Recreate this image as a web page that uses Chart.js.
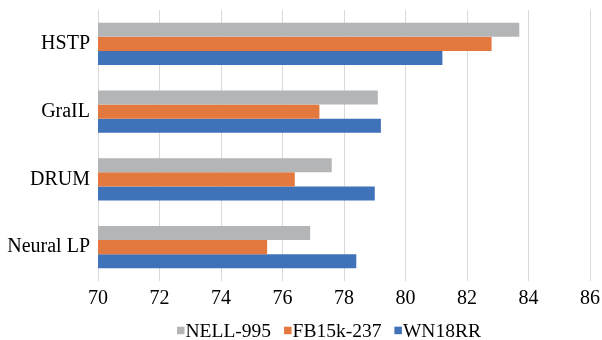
<!DOCTYPE html>
<html>
<head>
<meta charset="utf-8">
<script src="https://cdn.jsdelivr.net/npm/chart.js@4.4.1/dist/chart.umd.min.js"></script>
<style>
  html, body { margin: 0; padding: 0; background: #fff; }
  #wrap { width: 602px; height: 340px; position: relative; }
</style>
</head>
<body>
<div id="wrap"><canvas id="c" width="602" height="340"></canvas></div>
<script>
// Methods compared, top to bottom
const categories = ['HSTP', 'GraIL', 'DRUM', 'Neural LP'];

// Scores per dataset
const nell995  = [83.7, 79.1, 77.6, 76.9];
const fb15k237 = [82.8, 77.2, 76.4, 75.5];
const wn18rr   = [81.2, 79.2, 79.0, 78.4];

const seriesNames  = ['NELL-995', 'FB15k-237', 'WN18RR'];
const seriesColors = ['#B4B5B7', '#E4793F', '#3F72B8'];

// Axis range and tick step
const xMin = 70, xMax = 86, xStep = 2;

const FONT = '"Liberation Serif", "Times New Roman", serif';

// Legend drawn as a single row of small squares followed by names
const bottomLegend = {
  id: 'bottomLegend',
  afterDraw(chart) {
    const ctx = chart.ctx;
    ctx.save();
    ctx.font = '19.5px ' + FONT;
    ctx.textBaseline = 'alphabetic';
    ctx.textAlign = 'left';
    let x = 177;
    const baseline = 336.5;
    chart.data.datasets.forEach((ds, i) => {
      ctx.fillStyle = ds.backgroundColor;
      ctx.fillRect(x, 326.7, 7.5, 7.5);
      x += 8.5;
      ctx.fillStyle = '#000';
      ctx.fillText(ds.label, x, baseline);
      x += ctx.measureText(ds.label).width + 13;
    });
    ctx.restore();
  }
};

new Chart(document.getElementById('c'), {
  type: 'bar',
  data: {
    labels: categories,
    datasets: [
      { label: seriesNames[0], data: nell995,  backgroundColor: seriesColors[0] },
      { label: seriesNames[1], data: fb15k237, backgroundColor: seriesColors[1] },
      { label: seriesNames[2], data: wn18rr,   backgroundColor: seriesColors[2] }
    ]
  },
  options: {
    indexAxis: 'y',
    responsive: false,
    animation: false,
    devicePixelRatio: 1,
    layout: { padding: { top: 10, right: 12, bottom: 0, left: 0 } },
    datasets: {
      bar: { categoryPercentage: 0.62, barPercentage: 1.0, borderWidth: 0 }
    },
    plugins: {
      legend: { display: false },
      tooltip: { enabled: false }
    },
    scales: {
      x: {
        min: xMin,
        max: xMax,
        ticks: {
          stepSize: xStep,
          color: '#000',
          padding: 6,
          font: { family: FONT, size: 20 }
        },
        grid: { color: '#D9D9D9', lineWidth: 1, drawTicks: false },
        border: { display: false },
        afterFit(scale) {
          scale.height = 59;
          scale.paddingLeft = 0;
          scale.paddingRight = 0;
        }
      },
      y: {
        ticks: {
          color: '#000',
          padding: 8,
          font: { family: FONT, size: 20 }
        },
        grid: { display: false, drawTicks: false },
        border: { display: false },
        afterFit(scale) {
          scale.width = 98;
          scale.paddingTop = 0;
          scale.paddingBottom = 0;
        }
      }
    }
  },
  plugins: [bottomLegend]
});
</script>
</body>
</html>
